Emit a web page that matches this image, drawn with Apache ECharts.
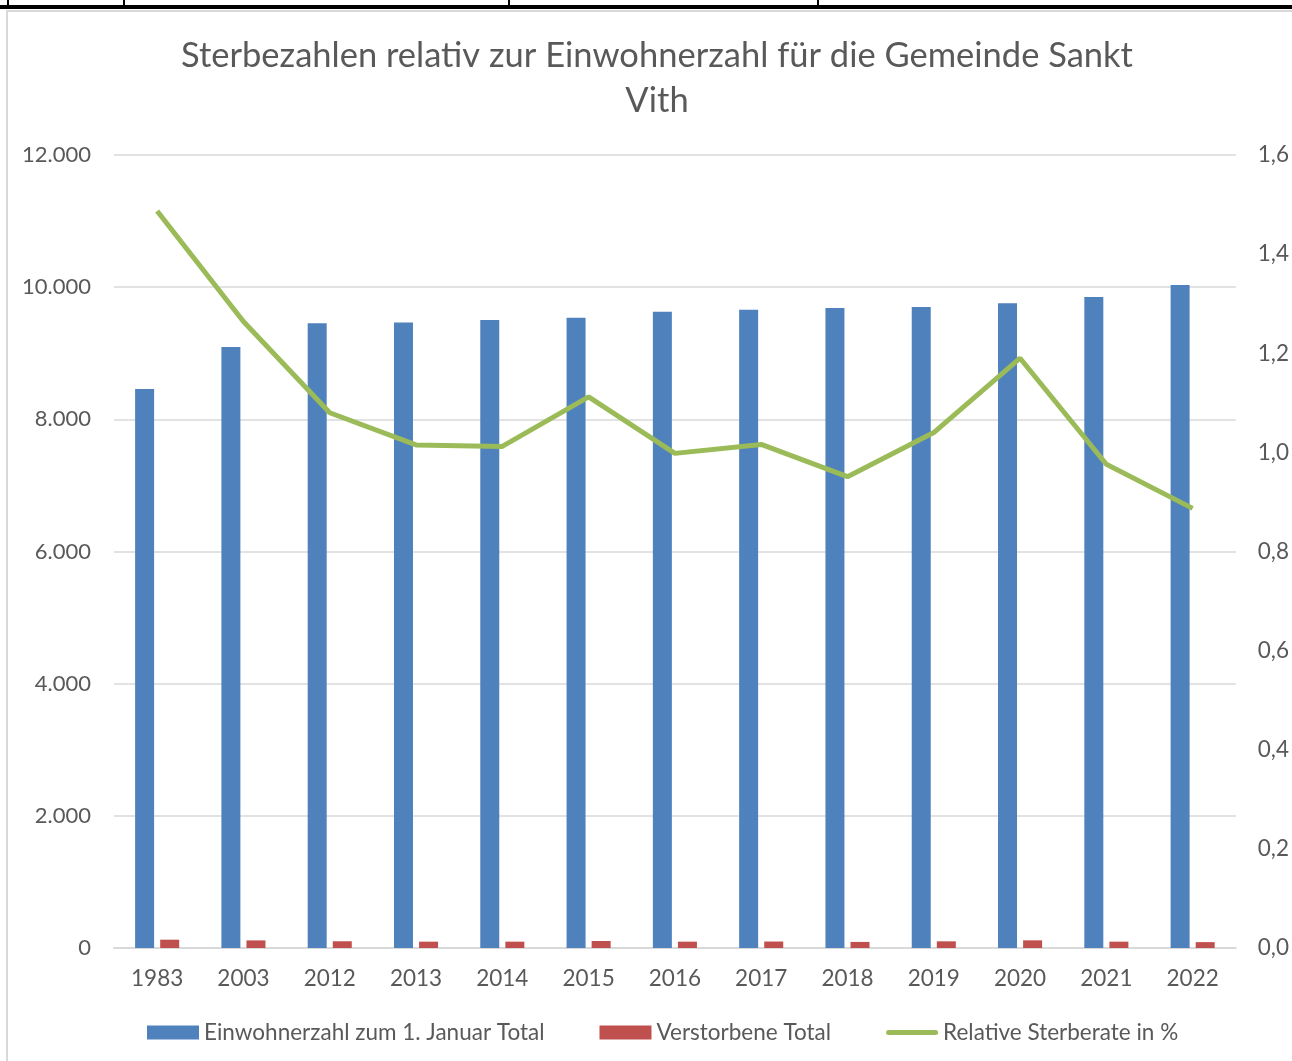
<!DOCTYPE html>
<html>
<head>
<meta charset="utf-8">
<script src="https://cdn.jsdelivr.net/npm/echarts@6/dist/echarts.min.js"></script>
<style>
  html, body { margin: 0; padding: 0; background: #fff; }
  #main { width: 1292px; height: 1061px; }
</style>
</head>
<body>
<div id="main"></div>
<script>
const years = ['1983', '2003', '2012', '2013', '2014', '2015', '2016', '2017', '2018', '2019', '2020', '2021', '2022'];
const einwohner = [8460, 9095, 9455, 9465, 9503, 9538, 9629, 9659, 9685, 9700, 9756, 9852, 10033];
const verstorbene = [126, 115, 102, 96, 96, 106, 96, 98, 92, 101, 116, 96, 89];
const sterberate = [1.487, 1.264, 1.080, 1.015, 1.012, 1.112, 0.998, 1.016, 0.951, 1.040, 1.190, 0.976, 0.887];

const textColor = '#595959';
const font = 'Lato';
// thin line icon for the line series, bounding box kept at 52x14 by the extra moves
const lineIcon = 'path://M0,0 M52,14 M2.5,4.5 L49.5,4.5 A2.5,2.5 0 0 1 49.5,9.5 L2.5,9.5 A2.5,2.5 0 0 1 2.5,4.5 Z';

const chart = echarts.init(document.getElementById('main'));
chart.setOption({
  animation: false,
  textStyle: {fontFamily: font},
  title: {
    text: 'Sterbezahlen relativ zur Einwohnerzahl für die Gemeinde Sankt\nVith',
    left: 652,
    textAlign: 'center',
    top: 28,
    textStyle: {fontFamily: font, fontSize: 34.5, fontWeight: 'normal', color: textColor, lineHeight: 45}
  },
  graphic: [
    // table border fragment above the chart
    {type: 'rect', shape: {x: 0, y: 5, width: 1292, height: 4}, style: {fill: '#000'}},
    {type: 'rect', shape: {x: 7, y: 0, width: 2, height: 6}, style: {fill: '#000'}},
    {type: 'rect', shape: {x: 123, y: 0, width: 2, height: 6}, style: {fill: '#000'}},
    {type: 'rect', shape: {x: 508, y: 0, width: 2, height: 6}, style: {fill: '#000'}},
    {type: 'rect', shape: {x: 817, y: 0, width: 2, height: 6}, style: {fill: '#000'}},
    // chart frame
    {type: 'rect', shape: {x: 7, y: 11, width: 1300, height: 1100}, style: {fill: 'none', stroke: '#d9d9d9', lineWidth: 2}}
  ],
  legend: {
    bottom: 12,
    left: 142,
    itemWidth: 52,
    itemHeight: 14,
    itemGap: 55,
    textStyle: {fontFamily: font, fontSize: 22.5, color: textColor},
    data: [
      {name: 'Einwohnerzahl zum 1. Januar Total', icon: 'rect'},
      {name: 'Verstorbene Total', icon: 'rect'},
      {name: 'Relative Sterberate in %', icon: lineIcon}
    ]
  },
  grid: {left: 114, right: 55, top: 155, bottom: 113},
  xAxis: {
    type: 'category',
    data: years,
    axisTick: {show: false},
    axisLine: {lineStyle: {color: '#d9d9d9', width: 2}},
    axisLabel: {fontFamily: font, fontSize: 22.5, color: textColor, margin: 19}
  },
  yAxis: [
    {
      type: 'value',
      min: 0, max: 12000, interval: 2000,
      axisLine: {show: false},
      axisTick: {show: false},
      splitLine: {lineStyle: {color: '#d9d9d9', width: 1.5}},
      axisLabel: {
        fontFamily: font, fontSize: 22, color: textColor, margin: 23,
        formatter: v => v.toLocaleString('de-DE')
      }
    },
    {
      type: 'value',
      min: 0, max: 1.6, interval: 0.2,
      axisLine: {show: false},
      axisTick: {show: false},
      splitLine: {show: false},
      axisLabel: {
        fontFamily: font, fontSize: 22.5, color: textColor, margin: 22,
        formatter: v => v.toFixed(1).replace('.', ',')
      }
    }
  ],
  series: [
    {
      name: 'Einwohnerzahl zum 1. Januar Total',
      type: 'bar',
      data: einwohner,
      barWidth: 19,
      barGap: '32%',
      itemStyle: {color: '#4f81bd'}
    },
    {
      name: 'Verstorbene Total',
      type: 'bar',
      data: verstorbene,
      barWidth: 19,
      itemStyle: {color: '#c0504d'}
    },
    {
      name: 'Relative Sterberate in %',
      type: 'line',
      yAxisIndex: 1,
      data: sterberate,
      symbol: 'none',
      lineStyle: {color: '#9bbb59', width: 5},
      itemStyle: {color: '#9bbb59'}
    }
  ]
});
</script>
</body>
</html>
